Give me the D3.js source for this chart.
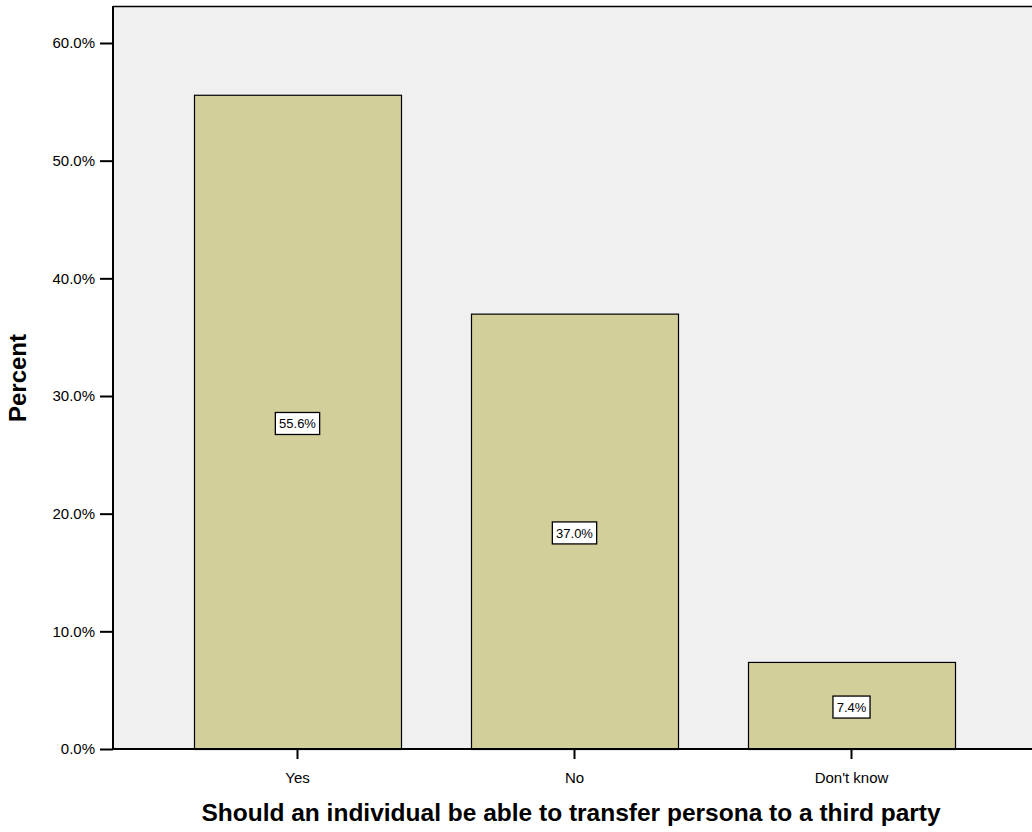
<!DOCTYPE html>
<html><head><meta charset="utf-8">
<script src="https://cdn.jsdelivr.net/npm/d3@7"></script>
<style>body{margin:0;background:#fff;} svg{display:block;font-family:"Liberation Sans",Arial,sans-serif;}</style>
</head><body>
<svg id="c" width="1032" height="832"></svg>
<script>
const categories = ["Yes", "No", "Don't know"];
const percents = [55.6, 37.0, 7.4];
const yTicks = [0, 10, 20, 30, 40, 50, 60];
const xTitle = "Should an individual be able to transfer persona to a third party";
const yTitle = "Percent";

const svg = d3.select("#c");
const pL = 113, pR = 1036, pT = 6, pB = 749;
const x = d3.scaleBand().domain(categories).range([pL, pR]).paddingInner(0.2527).paddingOuter(0.2924);
const y = d3.scaleLinear().domain([0, 60 * (pB - pT) / (749 - 43)]).range([pB, pT]);
const FF = "Liberation Sans, Arial, sans-serif";

svg.append("rect").attr("x", pL).attr("y", pT).attr("width", 1032 - pL).attr("height", pB - pT)
  .attr("fill", "#f0f0f0");
svg.append("line").attr("x1", pL).attr("x2", 1032).attr("y1", pT + 0.5).attr("y2", pT + 0.5)
  .attr("stroke", "#000").attr("stroke-width", 1.5);

svg.selectAll(".bar").data(percents).enter().append("rect")
  .attr("x", (d, i) => x(categories[i]) + 0.5)
  .attr("y", d => y(d) + 0.5)
  .attr("width", x.bandwidth())
  .attr("height", d => pB - y(d))
  .attr("fill", "#d3cf9a").attr("stroke", "#000").attr("stroke-width", 1.2);

const yAxis = d3.axisLeft(y).tickValues(yTicks).tickSize(13).tickPadding(5).tickFormat(d => d.toFixed(1) + "%");
const ga = svg.append("g").attr("transform", `translate(${pL},0)`).call(yAxis);
ga.select(".domain").attr("stroke-width", 2).attr("d", `M0,${pT}V${pB}`);
ga.selectAll(".tick line").attr("stroke-width", 2);
ga.selectAll("text").attr("font-size", 15).attr("fill", "#000").attr("font-family", FF);

const xAxis = d3.axisBottom(x).tickSize(10).tickPadding(13);
const gx = svg.append("g").attr("transform", `translate(0,${pB})`).call(xAxis);
gx.select(".domain").attr("stroke-width", 2).attr("d", `M${pL},0H1032`);
gx.selectAll(".tick line").attr("stroke-width", 2);
gx.selectAll("text").attr("font-size", 15).attr("fill", "#000").attr("font-family", FF);

const lab = svg.selectAll(".lab").data(percents).enter().append("g")
  .attr("transform", (d, i) => `translate(${x(categories[i]) + x.bandwidth() / 2},${(y(d) + pB) / 2 + 1.6})`);
lab.append("text").attr("text-anchor", "middle").attr("dy", "0.36em").attr("font-size", 13)
  .text(d => d.toFixed(1) + "%")
  .each(function() {
    const b = this.getBBox();
    d3.select(this.parentNode).insert("rect", "text")
      .attr("x", -b.width / 2 - 3.5).attr("y", -11).attr("width", b.width + 7).attr("height", 22)
      .attr("fill", "#fff").attr("stroke", "#000").attr("stroke-width", 1.3);
  });

svg.append("text").attr("x", 571).attr("y", 821).attr("text-anchor", "middle")
  .attr("font-size", 24.5).attr("font-weight", "bold").text(xTitle);
svg.append("text").attr("transform", "translate(26,378) rotate(-90)").attr("text-anchor", "middle")
  .attr("font-size", 24).attr("font-weight", "bold").text(yTitle);
</script>
</body></html>
